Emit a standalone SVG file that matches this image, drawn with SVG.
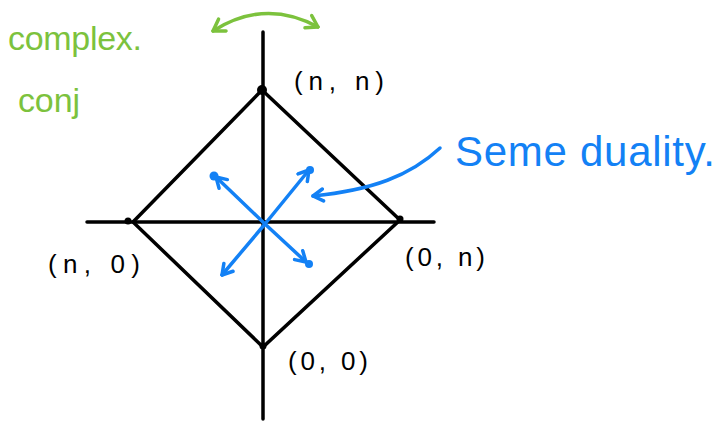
<svg xmlns="http://www.w3.org/2000/svg" width="721" height="423" viewBox="0 0 721 423">
<defs>
<style>
.ax{stroke:#000;stroke-width:3.5;fill:none;stroke-linecap:round}
.bl{stroke:#1381f5;stroke-width:3.5;fill:none;stroke-linecap:round;stroke-linejoin:round}
.gr{stroke:#7cc23d;stroke-width:3.5;fill:none;stroke-linecap:round;stroke-linejoin:round}
.lbl{font-family:"Liberation Sans",sans-serif;font-size:26px;fill:#000}
.gt{font-family:"Liberation Sans",sans-serif;font-size:34px;fill:#7cc23d}
.bt{font-family:"Liberation Sans",sans-serif;font-size:42px;fill:#1381f5}
</style>
<marker id="ab" viewBox="-12 -8 14 16" markerWidth="14" markerHeight="16" refX="0" refY="0" orient="auto-start-reverse" markerUnits="userSpaceOnUse">
<path d="M-10,-6 L0,0 L-10,6" fill="none" stroke="#1381f5" stroke-width="3.5" stroke-linecap="round" stroke-linejoin="round"/>
</marker>
<marker id="ag" viewBox="-14 -9 16 18" markerWidth="16" markerHeight="18" refX="0" refY="0" orient="auto-start-reverse" markerUnits="userSpaceOnUse">
<path d="M-11,-7 L0,0 L-11,7" fill="none" stroke="#7cc23d" stroke-width="3.5" stroke-linecap="round" stroke-linejoin="round"/>
</marker>
</defs>
<rect width="721" height="423" fill="#fff"/>
<g id="axes">
<line class="ax" x1="263" y1="32" x2="263" y2="419"/>
<line class="ax" x1="87" y1="222" x2="434" y2="222"/>
</g>
<g id="diamond">
<path class="ax" d="M262,90 L400,220 L263,347 L133,222 Z" stroke-linejoin="miter"/>
</g>
<g id="node-nn"><circle cx="262" cy="90" r="5" fill="#000"/><text class="lbl" x="294" y="90" textLength="90">(n, n)</text></g>
<g id="node-n0"><circle cx="128" cy="221" r="3.5" fill="#000"/><text class="lbl" x="48" y="273" textLength="92">(n, 0)</text></g>
<g id="node-0n"><circle cx="400" cy="219" r="3.5" fill="#000"/><text class="lbl" x="405" y="266" textLength="80">(0, n)</text></g>
<g id="node-00"><circle cx="263" cy="346" r="3.5" fill="#000"/><text class="lbl" x="288" y="370" textLength="80">(0, 0)</text></g>
<g id="connectors">
<line class="bl" x1="265" y1="224" x2="216" y2="177" marker-end="url(#ab)"/>
<line class="bl" x1="265" y1="224" x2="309" y2="170" marker-end="url(#ab)"/>
<line class="bl" x1="265" y1="224" x2="222" y2="275" marker-end="url(#ab)"/>
<line class="bl" x1="265" y1="224" x2="306" y2="262" marker-end="url(#ab)"/>
<circle cx="214" cy="176" r="4.5" fill="#1381f5"/>
<circle cx="310" cy="170" r="4" fill="#1381f5"/>
<circle cx="309" cy="264" r="4" fill="#1381f5"/>
<path class="bl" d="M440,148 C410,176 372,190 313,196" marker-end="url(#ab)"/>
<path class="gr" d="M213,31 Q265,-2 318,27" marker-start="url(#ag)" marker-end="url(#ag)"/>
</g>
<g id="label-conj">
<text class="gt" x="8" y="50" textLength="134">complex.</text>
<text class="gt" x="18" y="112" textLength="62">conj</text>
</g>
<g id="label-serre">
<text class="bt" x="455" y="166" textLength="260">Seme duality.</text>
</g>
</svg>
